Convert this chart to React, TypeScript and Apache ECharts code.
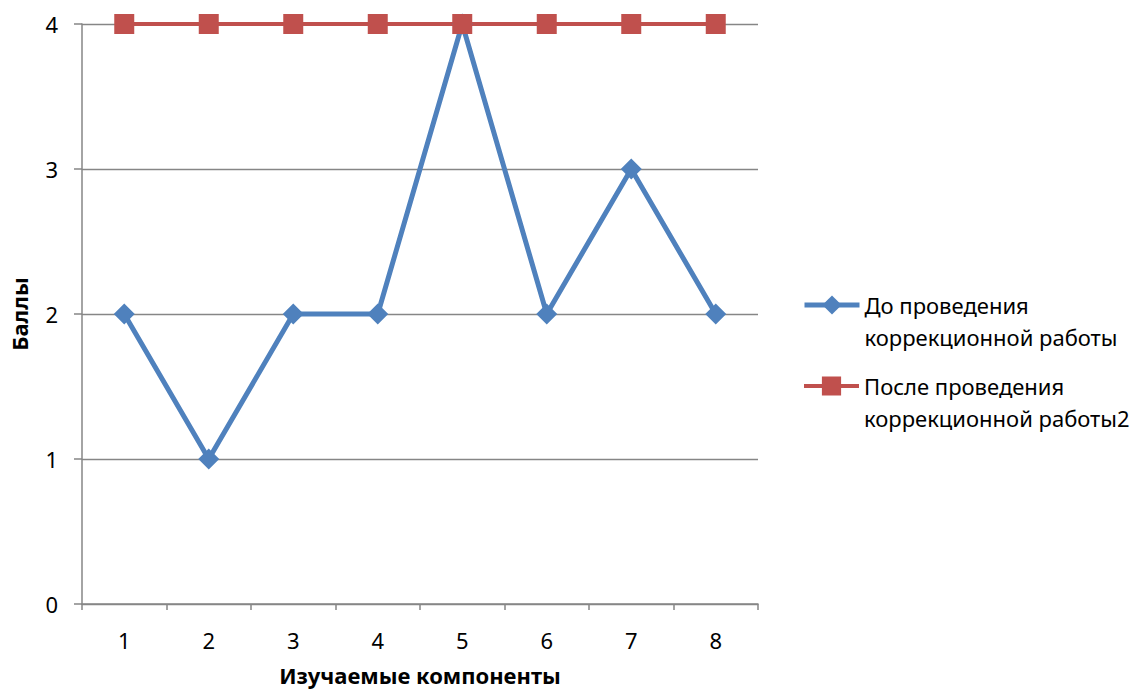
import React, { useEffect, useRef } from "react";
import * as echarts from "echarts";

const categories = ["1", "2", "3", "4", "5", "6", "7", "8"];
const beforeValues = [2, 1, 2, 2, 4, 2, 3, 2];
const afterValues = [4, 4, 4, 4, 4, 4, 4, 4];
const seriesNames = ["До проведения\nкоррекционной работы", "После проведения\nкоррекционной работы2"];

const FONT = "Noto Sans";
const AXIS = "#868686";
const BLUE = "#4F81BD";
const RED = "#C0504D";

function legendFor(name: string, top: number, lineWidth: number) {
  return {
    orient: "vertical",
    left: 797,
    top,
    itemWidth: 55,
    itemHeight: 24,
    selectedMode: false,
    lineStyle: { width: lineWidth },
    formatter: (n: string) => " \n" + n,
    textStyle: { fontSize: 22, lineHeight: 32, color: "#000", fontFamily: FONT },
    data: [name],
  };
}

export default function App() {
  const ref = useRef<HTMLDivElement>(null);
  useEffect(() => {
    document.body.style.margin = "0";
    const chart = echarts.init(ref.current!, null, { renderer: "svg" });
    chart.setOption({
      animation: false,
      textStyle: { fontFamily: FONT },
      grid: { left: 82, right: 384, top: 24, bottom: 89, containLabel: false },
      legend: [legendFor(seriesNames[0], 252, 5), legendFor(seriesNames[1], 333, 4)],
      xAxis: {
        type: "category",
        data: categories,
        boundaryGap: true,
        name: "Изучаемые компоненты",
        nameLocation: "middle",
        nameGap: 60,
        nameTextStyle: { fontSize: 22, fontWeight: "bold", color: "#000" },
        axisLine: { lineStyle: { color: AXIS, width: 1.5 } },
        axisTick: { show: true, length: 6, alignWithLabel: false, lineStyle: { color: AXIS, width: 1.5 } },
        axisLabel: { fontSize: 22, color: "#000", margin: 25 },
      },
      yAxis: {
        type: "value",
        min: 0,
        max: 4,
        interval: 1,
        name: "Баллы",
        nameLocation: "middle",
        nameGap: 52,
        nameRotate: 90,
        nameTextStyle: { fontSize: 22, fontWeight: "bold", color: "#000" },
        axisLine: { show: true, lineStyle: { color: AXIS, width: 1.5 } },
        axisTick: { show: true, length: 8, lineStyle: { color: AXIS, width: 1.5 } },
        axisLabel: { fontSize: 22, color: "#000", margin: 24 },
        splitLine: { show: true, lineStyle: { color: AXIS, width: 1.3 } },
      },
      series: [
        {
          name: seriesNames[0],
          type: "line",
          data: beforeValues,
          symbol: "diamond",
          symbolSize: 21,
          lineStyle: { color: BLUE, width: 5 },
          itemStyle: { color: BLUE },
        },
        {
          name: seriesNames[1],
          type: "line",
          data: afterValues,
          symbol: "rect",
          symbolSize: 20,
          lineStyle: { color: RED, width: 4 },
          itemStyle: { color: RED },
        },
      ],
    });
    return () => chart.dispose();
  }, []);
  return <div ref={ref} style={{ width: 1142, height: 693 }} />;
}
